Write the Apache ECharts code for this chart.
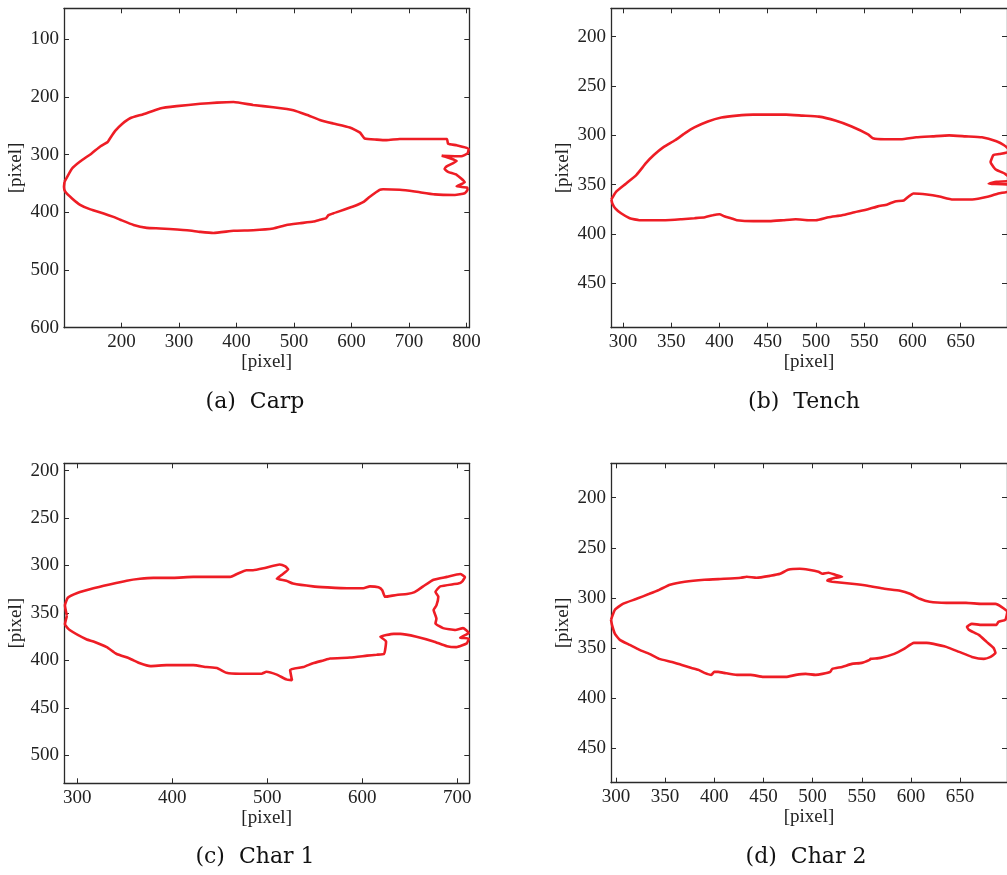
<!DOCTYPE html>
<html>
<head>
<meta charset="utf-8">
<script src="https://cdn.jsdelivr.net/npm/echarts@6/dist/echarts.min.js"></script>
<style>
html,body{margin:0;padding:0;background:#fff;}
#chart{width:1007px;height:875px;}
</style>
</head>
<body>
<div id="chart"></div>
<script>
// ---- Data (outline points in image pixel coordinates: [x, y]) ----
var carpOutline = [[101,347],[114,324],[128,312],[148,298],[163,286],[176,278],[180,272],[189,259],[201,247],[215,237],[238,230],[267,220],[296,216],[337,212],[366,210],[395,209],[429,214],[464,218],[499,223],[522,231],[545,240],[568,246],[597,253],[615,262],[623,272],[644,274],[661,275],[684,273],[733,273],[766,273],[768,281],[783,284],[804,290],[802,298],[791,303],[757,302],[783,311],[765,321],[762,325],[768,330],[783,335],[797,348],[783,355],[801,357],[802,361],[797,367],[780,370],[745,369],[710,364],[684,361],[655,360],[649,361],[632,373],[621,382],[603,390],[568,402],[560,405],[556,410],[545,413],[534,416],[510,419],[487,422],[464,428],[429,431],[395,432],[360,436],[337,434],[314,431],[267,428],[244,427],[221,422],[198,413],[186,408],[169,402],[146,395],[128,387],[114,376],[102,364],[100,356],[101,347]];
var tenchOutline = [[288,365],[293,357],[303,349],[314,340],[324,328],[332,320],[342,312],[354,305],[364,298],[374,292],[388,286],[402,282],[418,280],[435,279],[452,279],[469,279],[486,280],[503,281],[520,285],[537,291],[554,299],[559,303],[571,304],[588,304],[604,302],[621,301],[638,300],[655,301],[672,302],[687,306],[695,310],[702,316],[690,319],[684,320],[681,327],[684,332],[687,335],[696,339],[704,346],[687,347],[679,349],[700,350],[703,356],[689,359],[679,362],[662,365],[642,365],[628,362],[615,360],[601,359],[596,362],[591,366],[582,367],[574,370],[564,372],[554,375],[540,378],[527,381],[513,383],[500,386],[493,386],[479,385],[466,386],[452,387],[435,387],[418,386],[412,384],[405,382],[400,380],[393,381],[385,383],[374,384],[361,385],[344,386],[330,386],[317,386],[307,384],[298,379],[292,374],[289,369],[288,365]];
var char1Outline = [[289,353],[287,342],[290,334],[300,329],[317,324],[334,320],[352,316],[366,314],[380,313],[401,313],[422,312],[443,312],[461,312],[468,309],[478,305],[485,305],[496,303],[513,299],[519,301],[522,304],[515,310],[510,314],[520,316],[527,319],[548,322],[563,323],[584,324],[601,324],[608,322],[617,323],[621,326],[624,333],[636,331],[647,330],[655,328],[664,322],[675,315],[689,312],[703,309],[708,312],[705,317],[701,319],[682,322],[677,328],[680,333],[678,342],[675,347],[678,356],[677,361],[685,366],[698,368],[706,366],[712,371],[703,376],[712,377],[710,382],[699,386],[689,385],[675,380],[657,375],[640,372],[633,372],[619,375],[625,380],[624,389],[623,393],[615,394],[605,395],[587,397],[566,398],[559,400],[548,403],[538,407],[524,410],[526,421],[520,420],[510,415],[499,412],[494,414],[485,414],[471,414],[457,413],[447,408],[436,407],[422,405],[394,405],[377,406],[366,403],[355,398],[341,393],[331,386],[317,380],[310,378],[292,368],[287,362],[289,353]];
var char2Outline = [[295,322],[299,312],[307,306],[321,301],[334,296],[344,292],[355,287],[370,284],[390,282],[410,281],[427,280],[433,279],[443,280],[457,278],[467,276],[475,272],[487,271],[496,272],[506,274],[510,276],[516,275],[523,277],[530,279],[523,280],[516,282],[515,283],[520,284],[540,286],[556,288],[573,291],[589,293],[599,296],[609,301],[619,304],[636,305],[656,305],[672,306],[686,306],[692,309],[698,314],[696,322],[689,324],[687,327],[672,327],[662,326],[657,329],[659,332],[669,337],[677,344],[684,350],[686,355],[681,359],[674,361],[662,359],[649,354],[636,349],[623,346],[616,345],[603,345],[593,351],[583,356],[569,360],[559,361],[558,362],[550,365],[540,366],[530,369],[520,371],[518,374],[510,376],[503,377],[493,376],[483,377],[473,379],[463,379],[450,379],[437,377],[423,377],[410,375],[404,374],[400,374],[397,377],[390,375],[384,372],[377,370],[367,367],[357,364],[344,361],[334,356],[324,352],[314,347],[304,342],[299,336],[296,327],[295,322]];

// ---- Tick labels ----
var carpXTicks = [200,300,400,500,600,700,800];
var carpYTicks = [100,200,300,400,500,600];
var tenchXTicks = [300,350,400,450,500,550,600,650];
var tenchYTicks = [200,250,300,350,400,450];
var char1XTicks = [300,400,500,600,700];
var char1YTicks = [200,250,300,350,400,450,500];
var char2XTicks = [300,350,400,450,500,550,600,650];
var char2YTicks = [200,250,300,350,400,450];

var captions = ['(a)  Carp','(b)  Tench','(c)  Char 1','(d)  Char 2'];
var axisName = '[pixel]';

// ---- Layout ----
var panels = [
  {grid:{left:64,top:8.3,width:405.3,height:319.4}, x:[100,805], y:[46.5,600], xt:carpXTicks, yt:carpYTicks, data:carpOutline, cap:[255,402]},
  {grid:{left:611,top:8.3,width:404.6,height:319.4}, x:[287.6,698], y:[171.2,495], xt:tenchXTicks, yt:tenchYTicks, data:tenchOutline, cap:[804,402]},
  {grid:{left:64,top:463.3,width:405.3,height:320}, x:[286,712.6], y:[192.3,529.5], xt:char1XTicks, yt:char1YTicks, data:char1Outline, cap:[255,857]},
  {grid:{left:611,top:463.3,width:404.6,height:319.4}, x:[295,697.7], y:[165.6,484.7], xt:char2XTicks, yt:char2YTicks, data:char2Outline, cap:[806,857]}
];

var FONT = '"Liberation Serif", "Times New Roman", serif';
var lineStyle = {color:'#2a2a2a', width:1.3};
var grids=[], xAxes=[], yAxes=[], series=[], graphics=[];

panels.forEach(function(p, i){
  grids.push(p.grid);
  var tick = {show:true, inside:true, length:5, lineStyle:{color:'#2a2a2a', width:1}};
  xAxes.push({type:'value', gridIndex:i, position:'bottom', min:p.x[0], max:p.x[1],
    axisLine:{show:true, onZero:false, lineStyle:lineStyle},
    axisTick:Object.assign({customValues:p.xt}, tick),
    axisLabel:{customValues:p.xt, color:'#222', fontFamily:FONT, fontSize:19, margin:5},
    splitLine:{show:false},
    name:axisName, nameLocation:'middle', nameGap:23,
    nameTextStyle:{color:'#222', fontFamily:FONT, fontSize:19}
  });
  xAxes.push({type:'value', gridIndex:i, position:'top', min:p.x[0], max:p.x[1],
    axisLine:{show:true, onZero:false, lineStyle:lineStyle},
    axisTick:Object.assign({customValues:p.xt}, tick),
    axisLabel:{show:false}, splitLine:{show:false}
  });
  yAxes.push({type:'value', gridIndex:i, position:'left', inverse:true, min:p.y[0], max:p.y[1],
    axisLine:{show:true, onZero:false, lineStyle:lineStyle},
    axisTick:Object.assign({customValues:p.yt}, tick),
    axisLabel:{customValues:p.yt, color:'#222', fontFamily:FONT, fontSize:19, margin:5},
    splitLine:{show:false},
    name:axisName, nameLocation:'middle', nameGap:38, nameRotate:90,
    nameTextStyle:{color:'#222', fontFamily:FONT, fontSize:19}
  });
  yAxes.push({type:'value', gridIndex:i, position:'right', inverse:true, min:p.y[0], max:p.y[1],
    axisLine:{show:true, onZero:false, lineStyle:lineStyle},
    axisTick:Object.assign({customValues:p.yt}, tick),
    axisLabel:{show:false}, splitLine:{show:false}
  });
  series.push({type:'line', xAxisIndex:2*i, yAxisIndex:2*i, data:p.data,
    showSymbol:false, symbol:'none', smooth:0.15, clip:true,
    lineStyle:{color:'#ee1d25', width:2.6}, silent:true, animation:false});
  graphics.push({type:'text', x:p.cap[0], y:p.cap[1],
    style:{text:captions[i], fill:'#111', font:'22px "DejaVu Serif", serif', textAlign:'center', textVerticalAlign:'middle'}});
});

var chart = echarts.init(document.getElementById('chart'), null, {renderer:'canvas'});
chart.setOption({
  animation:false,
  backgroundColor:'#fff',
  grid:grids, xAxis:xAxes, yAxis:yAxes, series:series, graphic:graphics
});
</script>
</body>
</html>
